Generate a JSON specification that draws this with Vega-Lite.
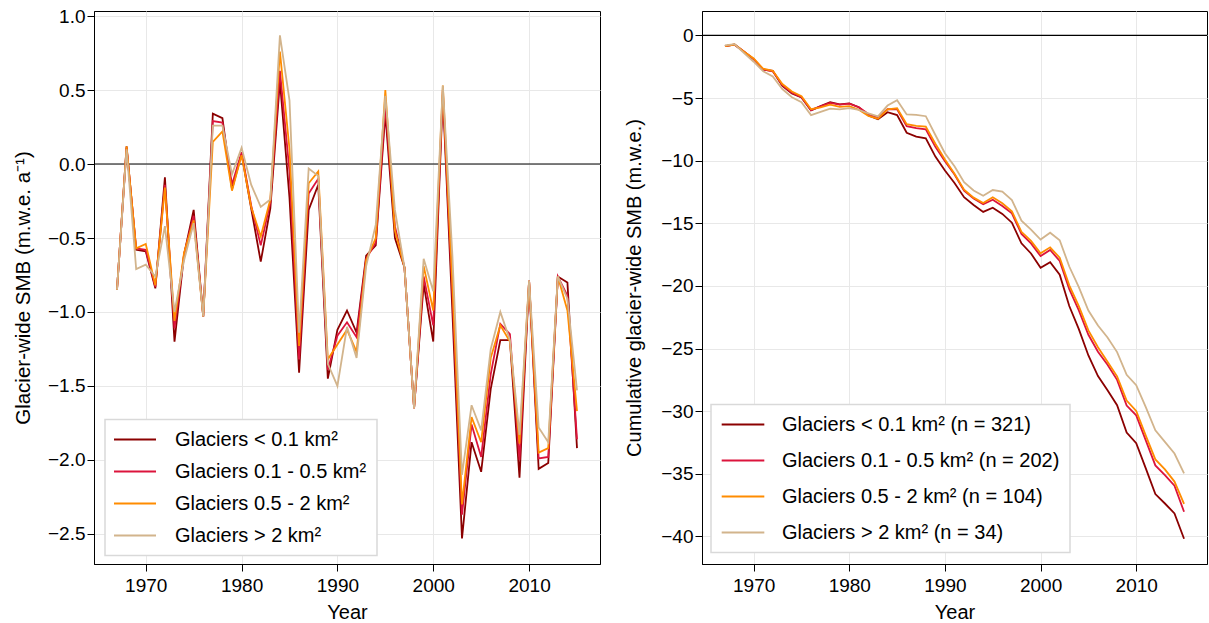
{
  "$schema": "https://vega.github.io/schema/vega-lite/v6.json",
  "padding": {"left": 12, "top": 6, "right": 0, "bottom": 0},
  "bounds": "flush",
  "spacing": 102,
  "background": "white",
  "data": {"values": [
    {"year":1967,"c":"a","smb":-0.85,"cum":-0.85},{"year":1968,"c":"a","smb":0.12,"cum":-0.73},{"year":1969,"c":"a","smb":-0.58,"cum":-1.31},{"year":1970,"c":"a","smb":-0.59,"cum":-1.90},{"year":1971,"c":"a","smb":-0.84,"cum":-2.74},{"year":1972,"c":"a","smb":-0.09,"cum":-2.83},{"year":1973,"c":"a","smb":-1.20,"cum":-4.03},{"year":1974,"c":"a","smb":-0.61,"cum":-4.64},{"year":1975,"c":"a","smb":-0.31,"cum":-4.95},{"year":1976,"c":"a","smb":-1.03,"cum":-5.98},
    {"year":1977,"c":"a","smb":0.34,"cum":-5.64},{"year":1978,"c":"a","smb":0.31,"cum":-5.33},{"year":1979,"c":"a","smb":-0.17,"cum":-5.50},{"year":1980,"c":"a","smb":0.07,"cum":-5.43},{"year":1981,"c":"a","smb":-0.30,"cum":-5.73},{"year":1982,"c":"a","smb":-0.66,"cum":-6.39},{"year":1983,"c":"a","smb":-0.30,"cum":-6.69},{"year":1984,"c":"a","smb":0.56,"cum":-6.13},{"year":1985,"c":"a","smb":-0.23,"cum":-6.36},{"year":1986,"c":"a","smb":-1.41,"cum":-7.77},
    {"year":1987,"c":"a","smb":-0.31,"cum":-8.08},{"year":1988,"c":"a","smb":-0.14,"cum":-8.22},{"year":1989,"c":"a","smb":-1.45,"cum":-9.67},{"year":1990,"c":"a","smb":-1.12,"cum":-10.79},{"year":1991,"c":"a","smb":-0.99,"cum":-11.78},{"year":1992,"c":"a","smb":-1.14,"cum":-12.92},{"year":1993,"c":"a","smb":-0.62,"cum":-13.54},{"year":1994,"c":"a","smb":-0.55,"cum":-14.09},{"year":1995,"c":"a","smb":0.34,"cum":-13.75},{"year":1996,"c":"a","smb":-0.50,"cum":-14.25},
    {"year":1997,"c":"a","smb":-0.70,"cum":-14.95},{"year":1998,"c":"a","smb":-1.65,"cum":-16.60},{"year":1999,"c":"a","smb":-0.81,"cum":-17.41},{"year":2000,"c":"a","smb":-1.20,"cum":-18.55},{"year":2001,"c":"a","smb":0.47,"cum":-18.10},{"year":2002,"c":"a","smb":-1.00,"cum":-19.10},{"year":2003,"c":"a","smb":-2.53,"cum":-21.60},{"year":2004,"c":"a","smb":-1.88,"cum":-23.45},{"year":2005,"c":"a","smb":-2.08,"cum":-25.55},{"year":2006,"c":"a","smb":-1.52,"cum":-27.20},
    {"year":2007,"c":"a","smb":-1.19,"cum":-28.33},{"year":2008,"c":"a","smb":-1.19,"cum":-29.52},{"year":2009,"c":"a","smb":-2.12,"cum":-31.70},{"year":2010,"c":"a","smb":-0.79,"cum":-32.55},{"year":2011,"c":"a","smb":-2.06,"cum":-34.57},{"year":2012,"c":"a","smb":-2.02,"cum":-36.62},{"year":2013,"c":"a","smb":-0.76,"cum":-37.37},{"year":2014,"c":"a","smb":-0.80,"cum":-38.16},{"year":2015,"c":"a","smb":-1.92,"cum":-40.18},

    {"year":1967,"c":"b","smb":-0.85,"cum":-0.85},{"year":1968,"c":"b","smb":0.11,"cum":-0.74},{"year":1969,"c":"b","smb":-0.57,"cum":-1.31},{"year":1970,"c":"b","smb":-0.58,"cum":-1.89},{"year":1971,"c":"b","smb":-0.83,"cum":-2.72},{"year":1972,"c":"b","smb":-0.14,"cum":-2.86},{"year":1973,"c":"b","smb":-1.11,"cum":-3.97},{"year":1974,"c":"b","smb":-0.61,"cum":-4.58},{"year":1975,"c":"b","smb":-0.35,"cum":-4.93},{"year":1976,"c":"b","smb":-1.03,"cum":-5.96},
    {"year":1977,"c":"b","smb":0.29,"cum":-5.67},{"year":1978,"c":"b","smb":0.28,"cum":-5.39},{"year":1979,"c":"b","smb":-0.14,"cum":-5.53},{"year":1980,"c":"b","smb":0.08,"cum":-5.45},{"year":1981,"c":"b","smb":-0.28,"cum":-5.73},{"year":1982,"c":"b","smb":-0.55,"cum":-6.28},{"year":1983,"c":"b","smb":-0.26,"cum":-6.54},{"year":1984,"c":"b","smb":0.63,"cum":-5.88},{"year":1985,"c":"b","smb":-0.05,"cum":-5.90},{"year":1986,"c":"b","smb":-1.32,"cum":-7.24},
    {"year":1987,"c":"b","smb":-0.20,"cum":-7.40},{"year":1988,"c":"b","smb":-0.10,"cum":-7.50},{"year":1989,"c":"b","smb":-1.39,"cum":-8.90},{"year":1990,"c":"b","smb":-1.16,"cum":-10.05},{"year":1991,"c":"b","smb":-1.07,"cum":-11.10},{"year":1992,"c":"b","smb":-1.17,"cum":-12.40},{"year":1993,"c":"b","smb":-0.64,"cum":-13.02},{"year":1994,"c":"b","smb":-0.53,"cum":-13.48},{"year":1995,"c":"b","smb":0.39,"cum":-13.12},{"year":1996,"c":"b","smb":-0.42,"cum":-13.62},
    {"year":1997,"c":"b","smb":-0.70,"cum":-14.20},{"year":1998,"c":"b","smb":-1.65,"cum":-15.85},{"year":1999,"c":"b","smb":-0.76,"cum":-16.60},{"year":2000,"c":"b","smb":-1.09,"cum":-17.62},{"year":2001,"c":"b","smb":0.50,"cum":-17.13},{"year":2002,"c":"b","smb":-0.88,"cum":-18.00},{"year":2003,"c":"b","smb":-2.37,"cum":-20.25},{"year":2004,"c":"b","smb":-1.76,"cum":-21.95},{"year":2005,"c":"b","smb":-1.98,"cum":-23.90},{"year":2006,"c":"b","smb":-1.42,"cum":-25.25},
    {"year":2007,"c":"b","smb":-1.08,"cum":-26.30},{"year":2008,"c":"b","smb":-1.15,"cum":-27.50},{"year":2009,"c":"b","smb":-2.00,"cum":-29.55},{"year":2010,"c":"b","smb":-0.79,"cum":-30.33},{"year":2011,"c":"b","smb":-1.99,"cum":-32.33},{"year":2012,"c":"b","smb":-1.98,"cum":-34.33},{"year":2013,"c":"b","smb":-0.76,"cum":-35.10},{"year":2014,"c":"b","smb":-0.89,"cum":-35.95},{"year":2015,"c":"b","smb":-1.86,"cum":-38.03},

    {"year":1967,"c":"c","smb":-0.85,"cum":-0.85},{"year":1968,"c":"c","smb":0.12,"cum":-0.73},{"year":1969,"c":"c","smb":-0.57,"cum":-1.30},{"year":1970,"c":"c","smb":-0.54,"cum":-1.84},{"year":1971,"c":"c","smb":-0.82,"cum":-2.66},{"year":1972,"c":"c","smb":-0.16,"cum":-2.82},{"year":1973,"c":"c","smb":-1.06,"cum":-3.88},{"year":1974,"c":"c","smb":-0.60,"cum":-4.48},{"year":1975,"c":"c","smb":-0.38,"cum":-4.86},{"year":1976,"c":"c","smb":-1.03,"cum":-5.89},
    {"year":1977,"c":"c","smb":0.15,"cum":-5.74},{"year":1978,"c":"c","smb":0.22,"cum":-5.52},{"year":1979,"c":"c","smb":-0.18,"cum":-5.70},{"year":1980,"c":"c","smb":0.06,"cum":-5.64},{"year":1981,"c":"c","smb":-0.29,"cum":-5.93},{"year":1982,"c":"c","smb":-0.49,"cum":-6.42},{"year":1983,"c":"c","smb":-0.24,"cum":-6.66},{"year":1984,"c":"c","smb":0.76,"cum":-5.90},{"year":1985,"c":"c","smb":0.10,"cum":-5.82},{"year":1986,"c":"c","smb":-1.23,"cum":-7.08},
    {"year":1987,"c":"c","smb":-0.13,"cum":-7.22},{"year":1988,"c":"c","smb":-0.05,"cum":-7.28},{"year":1989,"c":"c","smb":-1.32,"cum":-8.65},{"year":1990,"c":"c","smb":-1.22,"cum":-9.90},{"year":1991,"c":"c","smb":-1.12,"cum":-11.05},{"year":1992,"c":"c","smb":-1.27,"cum":-12.32},{"year":1993,"c":"c","smb":-0.65,"cum":-12.95},{"year":1994,"c":"c","smb":-0.50,"cum":-13.38},{"year":1995,"c":"c","smb":0.50,"cum":-12.92},{"year":1996,"c":"c","smb":-0.45,"cum":-13.40},
    {"year":1997,"c":"c","smb":-0.70,"cum":-14.05},{"year":1998,"c":"c","smb":-1.65,"cum":-15.68},{"year":1999,"c":"c","smb":-0.69,"cum":-16.40},{"year":2000,"c":"c","smb":-0.99,"cum":-17.40},{"year":2001,"c":"c","smb":0.53,"cum":-16.92},{"year":2002,"c":"c","smb":-0.82,"cum":-17.75},{"year":2003,"c":"c","smb":-2.30,"cum":-19.95},{"year":2004,"c":"c","smb":-1.71,"cum":-21.62},{"year":2005,"c":"c","smb":-1.88,"cum":-23.55},{"year":2006,"c":"c","smb":-1.31,"cum":-24.90},
    {"year":2007,"c":"c","smb":-1.09,"cum":-26.05},{"year":2008,"c":"c","smb":-1.20,"cum":-27.22},{"year":2009,"c":"c","smb":-1.89,"cum":-29.15},{"year":2010,"c":"c","smb":-0.79,"cum":-29.98},{"year":2011,"c":"c","smb":-1.95,"cum":-31.95},{"year":2012,"c":"c","smb":-1.92,"cum":-33.85},{"year":2013,"c":"c","smb":-0.76,"cum":-34.65},{"year":2014,"c":"c","smb":-0.99,"cum":-35.62},{"year":2015,"c":"c","smb":-1.67,"cum":-37.40},

    {"year":1967,"c":"d","smb":-0.85,"cum":-0.79},{"year":1968,"c":"d","smb":0.10,"cum":-0.70},{"year":1969,"c":"d","smb":-0.71,"cum":-1.42},{"year":1970,"c":"d","smb":-0.68,"cum":-2.10},{"year":1971,"c":"d","smb":-0.76,"cum":-2.86},{"year":1972,"c":"d","smb":-0.42,"cum":-3.28},{"year":1973,"c":"d","smb":-1.00,"cum":-4.28},{"year":1974,"c":"d","smb":-0.65,"cum":-4.93},{"year":1975,"c":"d","smb":-0.40,"cum":-5.33},{"year":1976,"c":"d","smb":-1.03,"cum":-6.36},
    {"year":1977,"c":"d","smb":0.26,"cum":-6.10},{"year":1978,"c":"d","smb":0.26,"cum":-5.84},{"year":1979,"c":"d","smb":-0.07,"cum":-5.91},{"year":1980,"c":"d","smb":0.11,"cum":-5.80},{"year":1981,"c":"d","smb":-0.14,"cum":-5.94},{"year":1982,"c":"d","smb":-0.29,"cum":-6.23},{"year":1983,"c":"d","smb":-0.24,"cum":-6.47},{"year":1984,"c":"d","smb":0.87,"cum":-5.60},{"year":1985,"c":"d","smb":0.43,"cum":-5.17},{"year":1986,"c":"d","smb":-1.14,"cum":-6.31},
    {"year":1987,"c":"d","smb":-0.03,"cum":-6.35},{"year":1988,"c":"d","smb":-0.08,"cum":-6.45},{"year":1989,"c":"d","smb":-1.35,"cum":-7.95},{"year":1990,"c":"d","smb":-1.50,"cum":-9.40},{"year":1991,"c":"d","smb":-1.10,"cum":-10.45},{"year":1992,"c":"d","smb":-1.31,"cum":-11.72},{"year":1993,"c":"d","smb":-0.69,"cum":-12.38},{"year":1994,"c":"d","smb":-0.41,"cum":-12.80},{"year":1995,"c":"d","smb":0.46,"cum":-12.34},{"year":1996,"c":"d","smb":-0.31,"cum":-12.46},
    {"year":1997,"c":"d","smb":-0.70,"cum":-13.14},{"year":1998,"c":"d","smb":-1.65,"cum":-14.79},{"year":1999,"c":"d","smb":-0.64,"cum":-15.50},{"year":2000,"c":"d","smb":-0.86,"cum":-16.30},{"year":2001,"c":"d","smb":0.53,"cum":-15.75},{"year":2002,"c":"d","smb":-0.62,"cum":-16.35},{"year":2003,"c":"d","smb":-2.10,"cum":-18.45},{"year":2004,"c":"d","smb":-1.63,"cum":-20.10},{"year":2005,"c":"d","smb":-1.80,"cum":-21.97},{"year":2006,"c":"d","smb":-1.25,"cum":-23.16},
    {"year":2007,"c":"d","smb":-1.00,"cum":-24.12},{"year":2008,"c":"d","smb":-1.19,"cum":-25.28},{"year":2009,"c":"d","smb":-1.83,"cum":-27.10},{"year":2010,"c":"d","smb":-0.79,"cum":-27.93},{"year":2011,"c":"d","smb":-1.78,"cum":-29.68},{"year":2012,"c":"d","smb":-1.88,"cum":-31.52},{"year":2013,"c":"d","smb":-0.76,"cum":-32.45},{"year":2014,"c":"d","smb":-0.91,"cum":-33.38},{"year":2015,"c":"d","smb":-1.53,"cum":-34.97}
  ]},
  "hconcat": [
    {
      "width": 506,
      "height": 553,
      "layer": [
        {
          "data": {"values": [{}]},
          "mark": {"type": "rule", "color": "black", "strokeWidth": 1.2},
          "encoding": {"y": {"datum": 0, "type": "quantitative"}}
        },
        {
          "mark": {"type": "line", "strokeWidth": 1.8, "clip": true},
          "encoding": {
            "x": {"field": "year", "type": "quantitative", "title": "Year",
                  "scale": {"domain": [1964.6, 2017.4], "nice": false, "zero": false},
                  "axis": {"values": [1970, 1980, 1990, 2000, 2010], "format": "d", "grid": true}},
            "y": {"field": "smb", "type": "quantitative", "title": "Glacier-wide SMB (m.w.e. a⁻¹)",
                  "scale": {"domain": [-2.703, 1.034], "nice": false, "zero": false},
                  "axis": {"values": [-2.5, -2.0, -1.5, -1.0, -0.5, 0.0, 0.5, 1.0], "format": ".1f", "grid": true, "titlePadding": 14, "titleFontSize": 20.5}},
            "color": {"field": "c", "type": "nominal",
                      "scale": {"domain": ["a", "b", "c", "d"], "range": ["#8b0000", "#dc143c", "#ff8c00", "#d2b48c"]},
                      "legend": {"orient": "none", "legendX": 11, "legendY": 408.5, "title": null,
                                 "symbolType": "M-1.571,0H4.43", "symbolSize": 196, "labelOffset": 40, "padding": 10, "rowPadding": 12,
                                 "labelExpr": "datum.value == 'a' ? 'Glaciers < 0.1 km²' : datum.value == 'b' ? 'Glaciers 0.1 - 0.5 km²' : datum.value == 'c' ? 'Glaciers 0.5 - 2 km²' : 'Glaciers > 2 km²'"}}
          }
        }
      ]
    },
    {
      "width": 505,
      "height": 553,
      "layer": [
        {
          "data": {"values": [{}]},
          "mark": {"type": "rule", "color": "black", "strokeWidth": 1.2},
          "encoding": {"y": {"datum": 0, "type": "quantitative"}}
        },
        {
          "mark": {"type": "line", "strokeWidth": 1.8, "clip": true},
          "encoding": {
            "x": {"field": "year", "type": "quantitative", "title": "Year",
                  "scale": {"domain": [1964.6, 2017.4], "nice": false, "zero": false},
                  "axis": {"values": [1970, 1980, 1990, 2000, 2010], "format": "d", "grid": true}},
            "y": {"field": "cum", "type": "quantitative", "title": "Cumulative glacier-wide SMB (m.w.e.)",
                  "scale": {"domain": [-42.2, 1.95], "nice": false, "zero": false},
                  "axis": {"values": [-40, -35, -30, -25, -20, -15, -10, -5, 0], "format": "d", "grid": true, "titlePadding": 16}},
            "color": {"field": "c", "type": "nominal",
                      "scale": {"domain": ["a", "b", "c", "d"], "range": ["#8b0000", "#dc143c", "#ff8c00", "#d2b48c"]},
                      "legend": {"orient": "none", "legendX": 9, "legendY": 393.5, "title": null,
                                 "symbolType": "M-1.33,0H4.76", "symbolSize": 196, "labelOffset": 41, "padding": 10, "rowPadding": 16,
                                 "labelExpr": "datum.value == 'a' ? 'Glaciers < 0.1 km² (n = 321)' : datum.value == 'b' ? 'Glaciers 0.1 - 0.5 km² (n = 202)' : datum.value == 'c' ? 'Glaciers 0.5 - 2 km² (n = 104)' : 'Glaciers > 2 km² (n = 34)'"}}
          }
        }
      ]
    }
  ],
  "resolve": {"legend": {"color": "independent"}, "scale": {"y": "independent"}},
  "config": {
    "font": "Liberation Sans",
    "view": {"stroke": "black", "strokeWidth": 1},
    "axis": {
      "domainColor": "black", "tickColor": "black", "tickSize": 7, "tickWidth": 1,
      "labelFont": "Liberation Sans", "labelFontSize": 19, "labelColor": "black", "labelPadding": 2,
      "titleFont": "Liberation Sans", "titleFontSize": 20, "titleFontWeight": "normal", "titleColor": "black",
      "gridColor": "#e8e8e8", "gridWidth": 1
    },
    "axisX": {"labelPadding": 5, "titlePadding": 7},
    "legend": {
      "labelFont": "Liberation Sans", "labelFontSize": 20, "labelColor": "black",
      "fillColor": "white", "strokeColor": "#d9d9d9", "strokeWidth": 1.5, "cornerRadius": 0,
      "symbolStrokeWidth": 1.8, "symbolFillColor": "transparent", "labelLimit": 500
    }
  }
}
